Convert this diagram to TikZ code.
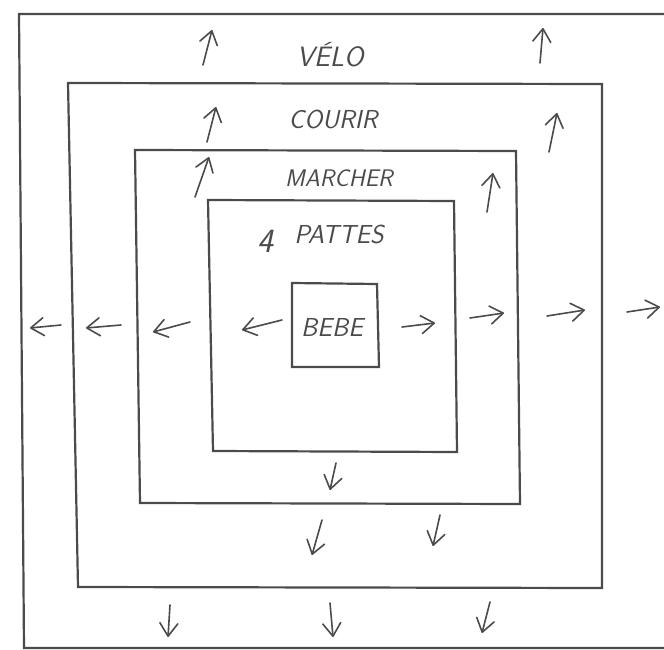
\documentclass[tikz,border=0pt]{standalone}
\usetikzlibrary{arrows.meta}
\definecolor{pencil}{RGB}{75,75,75}
\tikzset{
  frame/.style={draw=pencil, line width=2.2pt, line join=miter},
  arr/.style={draw=pencil, line width=1.6pt, line cap=round, line join=round,
    -{Straight Barb[length=13pt,width=18pt,line width=1.6pt,round]}},
  lab/.style={text=pencil, inner sep=0pt},
}
% an arrow between two named end points
\newcommand\penarrow[3]{%
  \coordinate (#1-s) at (#2);
  \coordinate (#1-e) at (#3);
  \draw[arr] (#1-s) -- (#1-e);}
\newcommand\handfont[1]{\sffamily\itshape\fontsize{#1}{#1}\selectfont}
\begin{document}
\begin{tikzpicture}[x=1pt,y=-1pt]
\useasboundingbox (0,0) rectangle (664,650);
\fill[white] (0,0) rectangle (664,650);

% outer zone, open to the right
\coordinate (o-tr) at (664,14);
\coordinate (o-tl) at (19,14);
\coordinate (o-bl) at (24,648);
\coordinate (o-br) at (664,648);
\draw[frame] (o-tr) -- (o-tl) -- (o-bl) -- (o-br);

% nested zones
\coordinate (c-tl) at (68,83);  \coordinate (c-tr) at (602,84);
\coordinate (c-br) at (602,588); \coordinate (c-bl) at (78,587);
\draw[frame] (c-tl) -- (c-tr) -- (c-br) -- (c-bl) -- cycle;

\coordinate (m-tl) at (135,150); \coordinate (m-tr) at (516,151);
\coordinate (m-br) at (520,504); \coordinate (m-bl) at (140,503);
\draw[frame] (m-tl) -- (m-tr) -- (m-br) -- (m-bl) -- cycle;

\coordinate (p-tl) at (208,200); \coordinate (p-tr) at (454,201);
\coordinate (p-br) at (457,452); \coordinate (p-bl) at (213,451);
\draw[frame] (p-tl) -- (p-tr) -- (p-br) -- (p-bl) -- cycle;

\coordinate (b-tl) at (292,283); \coordinate (b-tr) at (377,284);
\coordinate (b-br) at (379,367); \coordinate (b-bl) at (292,367);
\draw[frame] (b-tl) -- (b-tr) -- (b-br) -- (b-bl) -- cycle;

% labels
\node[lab, font=\handfont{28}] (velo) at (330,55) {VÉLO};
\node[lab, font=\handfont{26}] (courir) at (333,119) {COURIR};
\node[lab, font=\handfont{24}] (marcher) at (339,178) {MARCHER};
\node[lab, font=\handfont{34}] (quatre) at (265,241) {4};
\node[lab, font=\handfont{26}] (pattes) at (339,234) {PATTES};
\node[lab, font=\handfont{26}] (bebe) at (332,327) {BEBE};

% arrows pointing up
\penarrow{u1}{203,65}{212,30}
\penarrow{u2}{540,63}{543,28}
\penarrow{u3}{207,142}{216,107}
\penarrow{u4}{549,152}{557,113}
\penarrow{u5}{195,197}{209,157}
\penarrow{u6}{487,212}{493,173}
% arrows pointing left
\penarrow{l1}{61,325}{30,328}
\penarrow{l2}{121,325}{86,328}
\penarrow{l3}{190,322}{153,332}
\penarrow{l4}{282,320}{242,330}
% arrows pointing right
\penarrow{r1}{402,327}{435,323}
\penarrow{r2}{470,318}{504,313}
\penarrow{r3}{547,316}{585,310}
\penarrow{r4}{627,312}{660,307}
% arrows pointing down
\penarrow{d1}{336,463}{330,490}
\penarrow{d2}{322,520}{312,555}
\penarrow{d3}{440,515}{433,546}
\penarrow{d4}{170,605}{168,637}
\penarrow{d5}{330,603}{333,637}
\penarrow{d6}{490,602}{482,633}
\end{tikzpicture}
\end{document}
